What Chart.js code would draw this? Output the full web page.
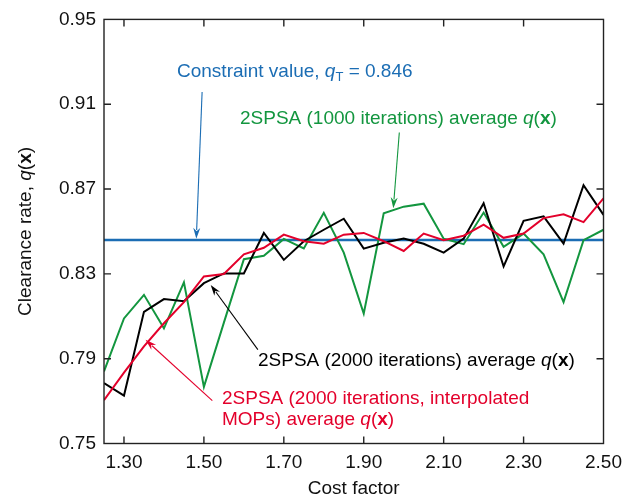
<!DOCTYPE html>
<html>
<head>
<meta charset="utf-8">
<script src="https://cdn.jsdelivr.net/npm/chart.js@4"></script>
<style>
  html, body { margin: 0; padding: 0; background: #fff; }
  #wrap { width: 630px; height: 501px; }
</style>
</head>
<body>
<div id="wrap"><canvas id="chart" width="630" height="501"></canvas></div>
<script>
// values
const costFactor = [1.25, 1.30, 1.35, 1.40, 1.45, 1.50, 1.55, 1.60, 1.65, 1.70, 1.75, 1.80, 1.85,
                    1.90, 1.95, 2.00, 2.05, 2.10, 2.15, 2.20, 2.25, 2.30, 2.35, 2.40, 2.45, 2.50];
const avg1000 = [0.7840, 0.8090, 0.8201, 0.8043, 0.8260, 0.7767, 0.8070, 0.8369, 0.8385, 0.8465, 0.8420, 0.8588, 0.8400,
                 0.8113, 0.8586, 0.8617, 0.8631, 0.8466, 0.8440, 0.8589, 0.8428, 0.8490, 0.8392, 0.8167, 0.8459, 0.8508];
const avg2000 = [0.7785, 0.7726, 0.8121, 0.8181, 0.8171, 0.8256, 0.8302, 0.8302, 0.8493, 0.8366, 0.8454, 0.8508, 0.8560,
                 0.8419, 0.8447, 0.8467, 0.8442, 0.8400, 0.8466, 0.8633, 0.8335, 0.8550, 0.8571, 0.8443, 0.8718, 0.8578];
const avg2000Interp = [0.7704, 0.7834, 0.7958, 0.8067, 0.8167, 0.8288, 0.8299, 0.8392, 0.8423, 0.8485, 0.8454, 0.8442, 0.8485,
                       0.8493, 0.8454, 0.8408, 0.8490, 0.8459, 0.8480, 0.8532, 0.8470, 0.8490, 0.8563, 0.8581, 0.8544, 0.8656];
const constraintValue = 0.846;
const xTicks = [1.30, 1.50, 1.70, 1.90, 2.10, 2.30, 2.50];
const yTicks = [0.75, 0.79, 0.83, 0.87, 0.91, 0.95];

const BLUE = '#1b6db4';
const GREEN = '#13963f';
const RED = '#e3002b';
const FONT = '"Liberation Sans", Arial, Helvetica, sans-serif';
const FSIZE = 19;

function pts(ys) {
  return costFactor.map((x, i) => ({ x: x, y: ys[i] }));
}

// draw text made of pieces with italic / bold / subscript parts
function richWidth(ctx, parts) {
  let w = 0;
  parts.forEach(p => {
    ctx.font = partFont(p);
    w += ctx.measureText(p.t).width;
  });
  return w;
}
function partFont(p) {
  let size = p.sub ? Math.round(FSIZE * 0.7) : FSIZE;
  let st = (p.i ? 'italic ' : '') + (p.b ? 'bold ' : '');
  return st + size + 'px ' + FONT;
}
function drawRich(ctx, x, y, parts, color) {
  ctx.fillStyle = color;
  ctx.textBaseline = 'alphabetic';
  ctx.textAlign = 'left';
  parts.forEach(p => {
    ctx.font = partFont(p);
    ctx.fillText(p.t, x, p.sub ? y + 4 : y);
    x += ctx.measureText(p.t).width;
  });
}

function drawArrow(ctx, chart, from, to, color) {
  let xs = chart.scales.x, ys = chart.scales.y;
  let x1 = xs.getPixelForValue(from[0]), y1 = ys.getPixelForValue(from[1]);
  let x2 = xs.getPixelForValue(to[0]), y2 = ys.getPixelForValue(to[1]);
  let ang = Math.atan2(y2 - y1, x2 - x1);
  let len = 11, hw = 3.5;
  ctx.strokeStyle = color;
  ctx.fillStyle = color;
  ctx.lineWidth = 1.1;
  ctx.beginPath();
  ctx.moveTo(x1, y1);
  ctx.lineTo(x2 - Math.cos(ang) * len * 0.8, y2 - Math.sin(ang) * len * 0.8);
  ctx.stroke();
  ctx.beginPath();
  ctx.moveTo(x2, y2);
  ctx.lineTo(x2 - Math.cos(ang) * len + Math.sin(ang) * hw, y2 - Math.sin(ang) * len - Math.cos(ang) * hw);
  ctx.lineTo(x2 - Math.cos(ang) * len * 0.7, y2 - Math.sin(ang) * len * 0.7);
  ctx.lineTo(x2 - Math.cos(ang) * len - Math.sin(ang) * hw, y2 - Math.sin(ang) * len + Math.cos(ang) * hw);
  ctx.closePath();
  ctx.fill();
}

const qx = [{ t: 'q', i: 1 }, { t: '(' }, { t: 'x', b: 1 }, { t: ')' }];

const framePlugin = {
  id: 'frame',
  afterDraw(chart) {
    const ctx = chart.ctx;
    const a = chart.chartArea;
    const xs = chart.scales.x, ys = chart.scales.y;
    ctx.save();

    // box and inward ticks
    ctx.strokeStyle = '#222';
    ctx.lineWidth = 1.4;
    ctx.strokeRect(a.left, a.top, a.right - a.left, a.bottom - a.top);
    ctx.beginPath();
    xTicks.forEach(v => {
      let px = xs.getPixelForValue(v);
      if (px > a.right - 2) return;
      ctx.moveTo(px, a.bottom); ctx.lineTo(px, a.bottom - 7);
      ctx.moveTo(px, a.top); ctx.lineTo(px, a.top + 7);
    });
    yTicks.forEach(v => {
      let py = ys.getPixelForValue(v);
      if (py < a.top + 2 || py > a.bottom - 2) return;
      ctx.moveTo(a.left, py); ctx.lineTo(a.left + 7, py);
      ctx.moveTo(a.right, py); ctx.lineTo(a.right - 7, py);
    });
    ctx.stroke();

    // axis titles
    ctx.fillStyle = '#111';
    ctx.font = FSIZE + 'px ' + FONT;
    ctx.textAlign = 'center';
    ctx.textBaseline = 'middle';
    ctx.fillText('Cost factor', (a.left + a.right) / 2, 489);

    let yTitle = [{ t: 'Clearance rate, ' }].concat(qx);
    ctx.translate(24, (a.top + a.bottom) / 2);
    ctx.rotate(-Math.PI / 2);
    let w = richWidth(ctx, yTitle);
    drawRich(ctx, -w / 2, 7, yTitle, '#111');
    ctx.setTransform(1, 0, 0, 1, 0, 0);

    // annotations
    drawRich(ctx, 177, 77, [{ t: 'Constraint value, ' }, { t: 'q', i: 1 }, { t: 'T', sub: 1 }, { t: ' = 0.846' }], BLUE);
    drawArrow(ctx, chart, [1.4955, 0.9158], [1.481, 0.8465], BLUE);

    drawRich(ctx, 240, 124, [{ t: '2SPSA (1000 iterations) average ' }].concat(qx), GREEN);
    drawArrow(ctx, chart, [1.989, 0.8967], [1.974, 0.8609], GREEN);

    drawRich(ctx, 258, 366, [{ t: '2SPSA (2000 iterations) average ' }].concat(qx), '#000');
    drawArrow(ctx, chart, [1.635, 0.7943], [1.517, 0.8248], '#000');

    drawRich(ctx, 222, 404, [{ t: '2SPSA (2000 iterations, interpolated' }], RED);
    drawRich(ctx, 222, 425, [{ t: 'MOPs) average ' }].concat(qx), RED);
    drawArrow(ctx, chart, [1.521, 0.7702], [1.354, 0.7989], RED);

    ctx.restore();
  }
};

new Chart(document.getElementById('chart'), {
  type: 'line',
  data: {
    datasets: [
      {
        label: 'Constraint value',
        data: [{ x: costFactor[0], y: constraintValue }, { x: costFactor[costFactor.length - 1], y: constraintValue }],
        borderColor: BLUE,
        borderWidth: 2.4,
        order: 4
      },
      {
        label: '2SPSA (1000 iterations)',
        data: pts(avg1000),
        borderColor: GREEN,
        borderWidth: 2,
        order: 3
      },
      {
        label: '2SPSA (2000 iterations)',
        data: pts(avg2000),
        borderColor: '#000',
        borderWidth: 2,
        order: 2
      },
      {
        label: '2SPSA (2000 iterations, interpolated MOPs)',
        data: pts(avg2000Interp),
        borderColor: RED,
        borderWidth: 2,
        order: 1
      }
    ]
  },
  options: {
    responsive: false,
    animation: false,
    devicePixelRatio: 1,
    layout: { padding: { left: 0, right: 22, top: 13.5, bottom: 0 } },
    elements: {
      point: { radius: 0, hoverRadius: 0 },
      line: { tension: 0, fill: false, borderJoinStyle: 'miter' }
    },
    plugins: {
      legend: { display: false },
      tooltip: { enabled: false }
    },
    scales: {
      x: {
        type: 'linear',
        min: 1.25,
        max: 2.50,
        afterFit(scale) { scale.height = 57.5; },
        afterBuildTicks(scale) { scale.ticks = xTicks.map(v => ({ value: v })); },
        grid: { display: false, drawTicks: false },
        border: { display: false },
        ticks: {
          padding: 8,
          color: '#111',
          font: { family: FONT, size: FSIZE },
          maxRotation: 0,
          callback: v => v.toFixed(2)
        }
      },
      y: {
        type: 'linear',
        min: 0.75,
        max: 0.95,
        afterFit(scale) { scale.width = 104; },
        afterBuildTicks(scale) { scale.ticks = yTicks.map(v => ({ value: v })); },
        grid: { display: false, drawTicks: false },
        border: { display: false },
        ticks: {
          padding: 8,
          color: '#111',
          font: { family: FONT, size: FSIZE },
          callback: v => v.toFixed(2)
        }
      }
    }
  },
  plugins: [framePlugin]
});
</script>
</body>
</html>
